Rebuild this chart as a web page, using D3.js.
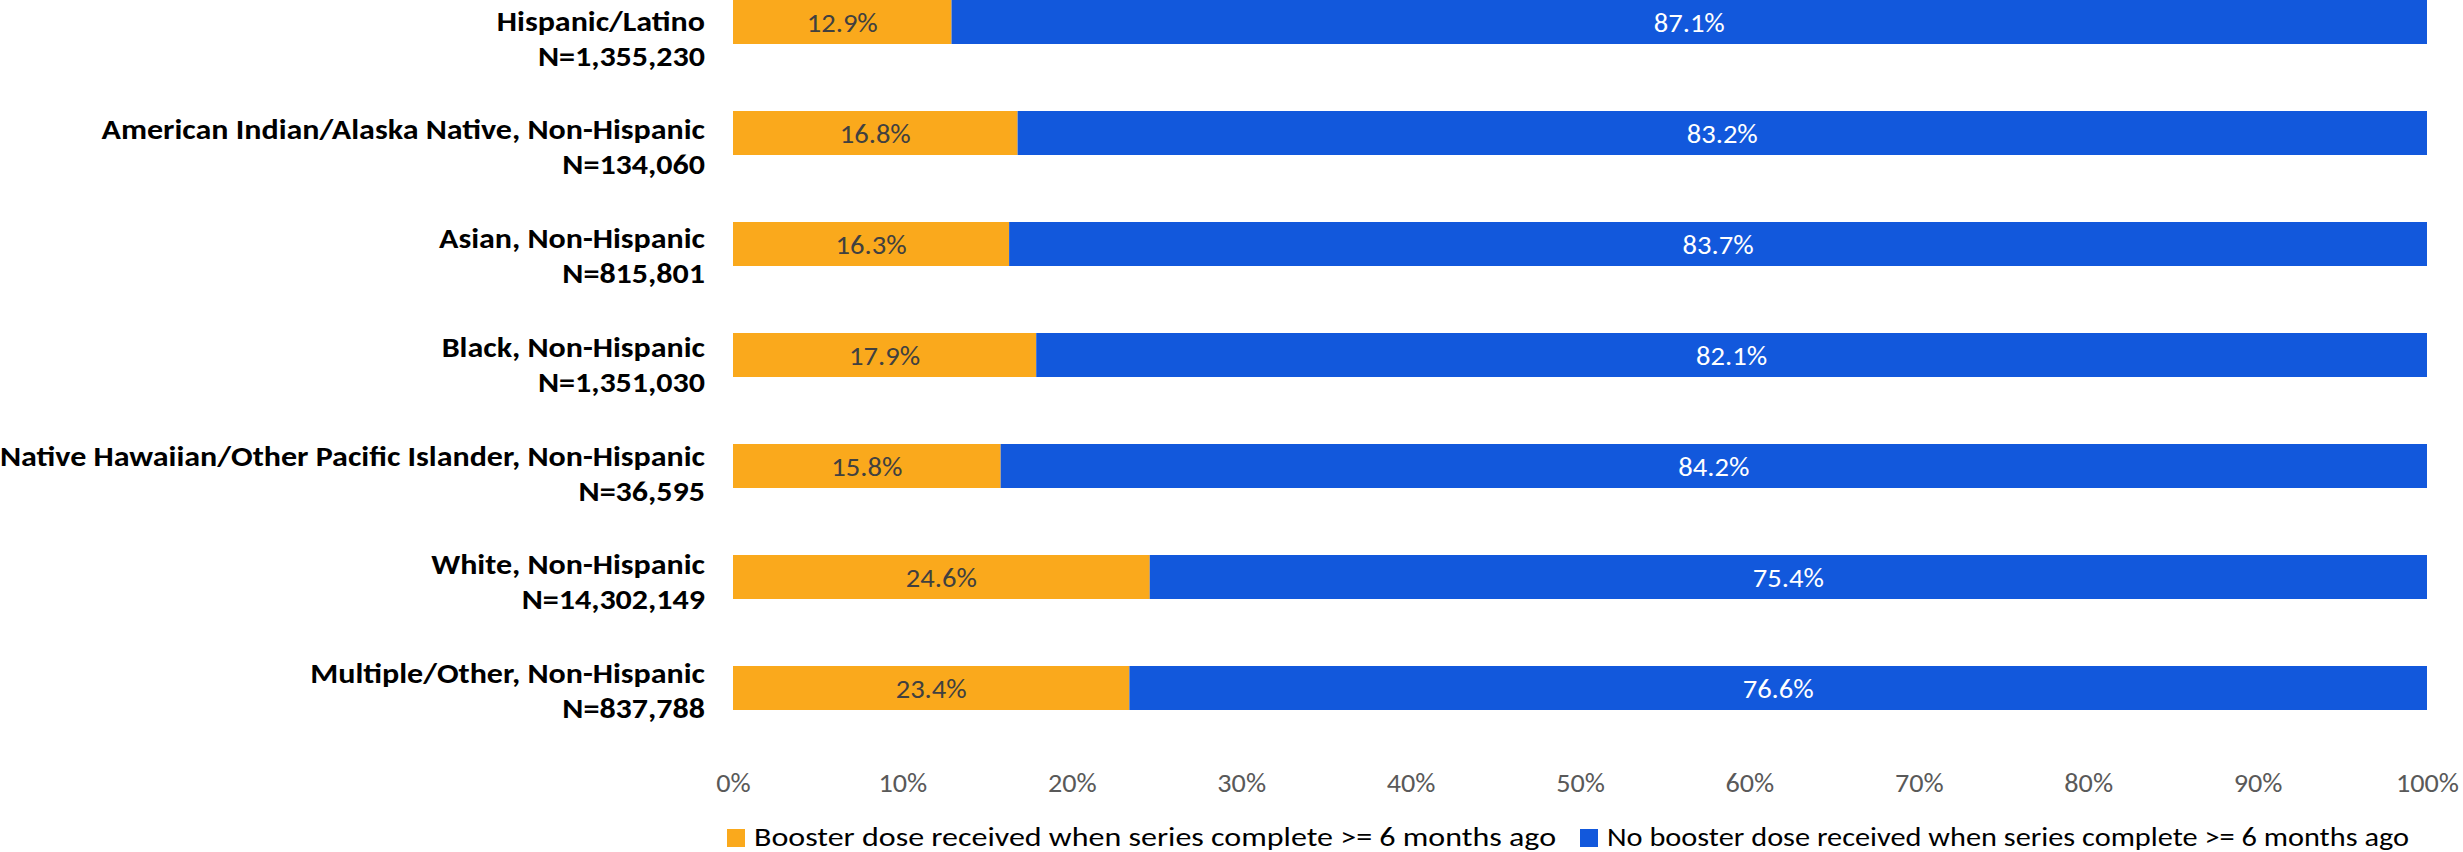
<!DOCTYPE html>
<html>
<head>
<meta charset="utf-8">
<script src="https://cdn.jsdelivr.net/npm/d3@7/dist/d3.min.js"></script>
<style>
  html, body { margin: 0; padding: 0; background: #fff; }
  svg { display: block; }
  text { font-family: Carlito, Calibri, Lato, "Open Sans", sans-serif; }
</style>
</head>
<body>
<svg id="chart" width="2463" height="852"></svg>
<script>
// Race/ethnicity groups and their population counts
const groups = [
  "Hispanic/Latino",
  "American Indian/Alaska Native, Non-Hispanic",
  "Asian, Non-Hispanic",
  "Black, Non-Hispanic",
  "Native Hawaiian/Other Pacific Islander, Non-Hispanic",
  "White, Non-Hispanic",
  "Multiple/Other, Non-Hispanic"
];
const counts = ["1,355,230", "134,060", "815,801", "1,351,030", "36,595", "14,302,149", "837,788"];

// Percent with / without a booster among those whose series completed >= 6 months ago
const boosted    = [12.9, 16.8, 16.3, 17.9, 15.8, 24.6, 23.4];
const notBoosted = [87.1, 83.2, 83.7, 82.1, 84.2, 75.4, 76.6];

const seriesNames = [
  "Booster dose received when series complete >= 6 months ago",
  "No booster dose received when series complete >= 6 months ago"
];
const tickValues = [0, 10, 20, 30, 40, 50, 60, 70, 80, 90, 100];

const colors = ["#FAA91C", "#1258DC"];

const svg = d3.select("#chart");

const x = d3.scaleLinear().domain([0, 100]).range([733, 2427]);
const y = d3.scaleBand().domain(groups).range([-33.5, 743.5])
  .paddingInner(0.6036).paddingOuter(0.3018);
const labelY = d3.scalePoint().domain(groups).range([30.7, 682.9]);

const rows = groups.map((g, i) => ({
  group: g, count: counts[i], values: [boosted[i], notBoosted[i]]
}));

// Horizontal squeeze so the fallback face matches the narrow sans widths
function fitWidth(sel, refText, refWidth) {
  const probe = svg.append("text").attr("font-size", sel.attr("font-size"))
    .attr("font-weight", sel.attr("font-weight")).text(refText);
  const w = probe.node().getComputedTextLength();
  probe.remove();
  const k = refWidth / w;
  sel.each(function () {
    const len = this.getComputedTextLength();
    d3.select(this).attr("textLength", len * k).attr("lengthAdjust", "spacingAndGlyphs");
  });
}

// Stacked bars
const rowG = svg.append("g").selectAll("g").data(rows).join("g");
rowG.each(function (d) {
  const g = d3.select(this);
  let acc = 0;
  d.values.forEach((v, k) => {
    const x0 = acc, x1 = acc + v;
    acc = x1;
    g.append("rect")
      .attr("x", x(x0)).attr("y", y(d.group))
      .attr("width", x(x1) - x(x0)).attr("height", y.bandwidth())
      .attr("fill", colors[k]);
    g.append("text")
      .attr("class", "val")
      .attr("x", (x(x0) + x(x1)) / 2)
      .attr("y", y(d.group) + y.bandwidth() / 2 + 9.5)
      .attr("text-anchor", "middle")
      .attr("font-size", 26)
      .attr("fill", k === 0 ? "#404040" : "#ffffff")
      .text(v.toFixed(1) + "%");
  });
});
fitWidth(svg.selectAll("text.val").attr("font-size", 26), "12.9%", 71);

// Category labels (name, then N on a second line)
const lab = svg.append("g").selectAll("g").data(rows).join("g");
lab.append("text").attr("class", "cat")
  .attr("x", 705).attr("y", d => labelY(d.group))
  .attr("text-anchor", "end").attr("font-size", 28).attr("font-weight", 700)
  .attr("fill", "#000").text(d => d.group);
lab.append("text").attr("class", "cat")
  .attr("x", 705).attr("y", d => labelY(d.group) + 35)
  .attr("text-anchor", "end").attr("font-size", 28).attr("font-weight", 700)
  .attr("fill", "#000").text(d => "N=" + d.count);
fitWidth(svg.selectAll("text.cat").attr("font-size", 28).attr("font-weight", 700),
  "Asian, Non-Hispanic", 266);

// Percentage axis
const axis = d3.axisBottom(x).tickValues(tickValues).tickFormat(d => d + "%").tickSize(0).tickPadding(0);
const axG = svg.append("g").attr("transform", "translate(0,772)").call(axis);
axG.select(".domain").remove();
axG.selectAll("text").attr("class", "tick-lab")
  .attr("font-size", 26).attr("fill", "#595959").attr("dy", 0).attr("y", 19.5)
  .style("font-family", "Carlito, Calibri, Lato, 'Open Sans', sans-serif");
fitWidth(axG.selectAll("text.tick-lab").attr("font-size", 26), "100%", 63);

// Legend
const legendX = [727, 1580];
const legendW = [802, 845];
const leg = svg.append("g").selectAll("g").data(seriesNames).join("g")
  .attr("transform", (d, i) => `translate(${legendX[i]},829)`);
leg.append("rect").attr("width", 18).attr("height", 18).attr("fill", (d, i) => colors[i]);
leg.append("text").attr("class", "leg").attr("x", 27).attr("y", 17)
  .attr("font-size", 26).attr("fill", "#000").text(d => d);
leg.selectAll("text.leg").each(function (d, i) {
  d3.select(this).attr("textLength", legendW[i]).attr("lengthAdjust", "spacingAndGlyphs");
});
</script>
</body>
</html>
